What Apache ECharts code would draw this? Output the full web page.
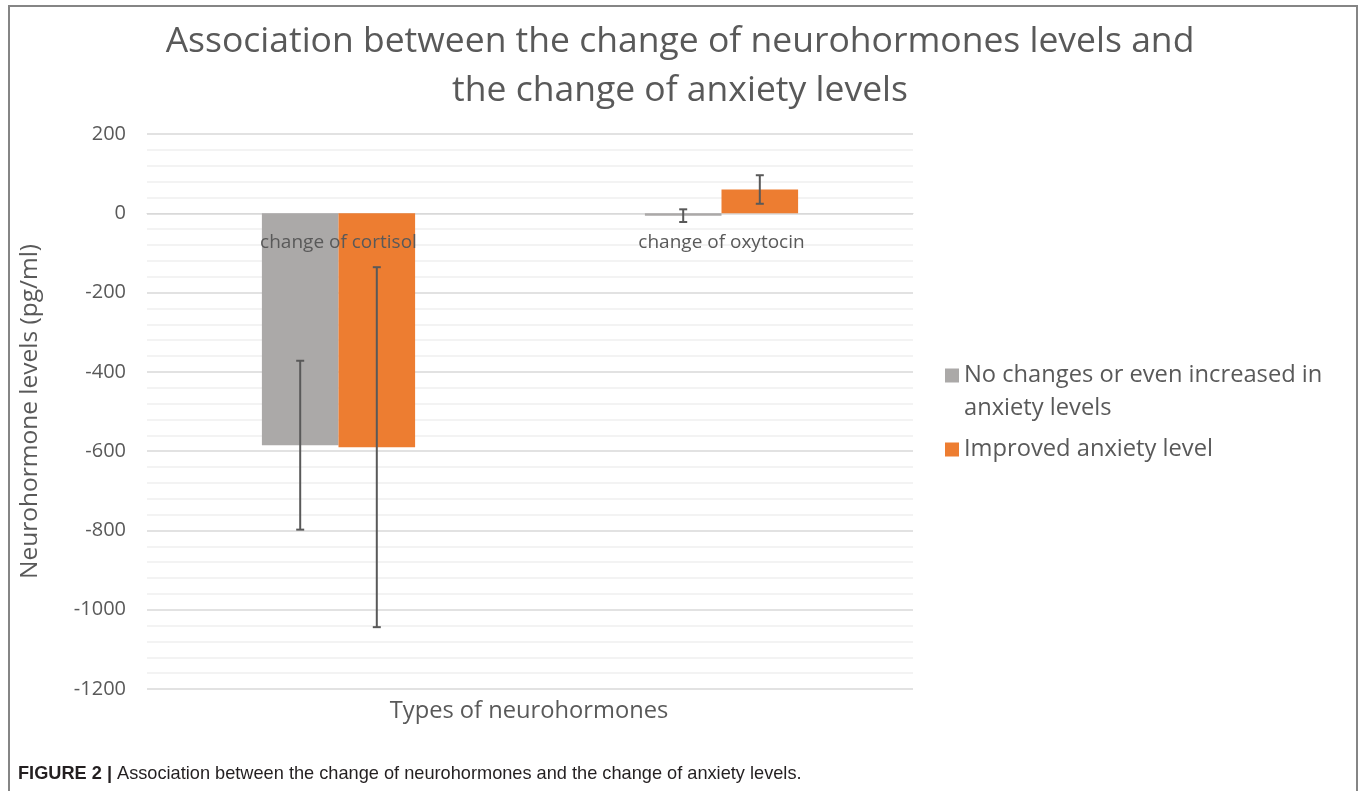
<!DOCTYPE html>
<html>
<head>
<meta charset="utf-8">
<script src="https://cdn.jsdelivr.net/npm/echarts@6/dist/echarts.min.js"></script>
<style>
  html, body { margin: 0; padding: 0; background: #fff; }
  #frame { position: absolute; left: 8px; top: 5px; width: 1346px; height: 800px;
           border: 2px solid #858585; border-bottom: none; }
  #main { position: absolute; left: 0; top: 0; width: 1360px; height: 791px; }
</style>
</head>
<body>
<div id="frame"></div>
<div id="main"></div>
<script>
// categories on the x axis
var categories = ['change of cortisol', 'change of oxytocin'];
// series names
var seriesNames = ['No changes or even increased in anxiety levels', 'Improved anxiety level'];
// mean values (pg/ml)
var noChangeValues = [-585, -6];
var improvedValues = [-590, 60];
// error bar half-widths
var noChangeErr = [213, 16];
var improvedErr = [454, 36];

var textGray = '#595959';
var fontFam = '"Open Sans", sans-serif';

// error bar data: [category index, low, high]
function errData(vals, errs) {
    return vals.map(function (v, i) {
        return [i, v - errs[i], v + errs[i]];
    });
}

// draw one error bar, shifted to the middle of its bar
function errorBar(shift) {
    return function (params, api) {
        var low = api.coord([api.value(0), api.value(1)]);
        var high = api.coord([api.value(0), api.value(2)]);
        var band = api.size([1, 0])[0];
        var x = low[0] + band * 0.1 * shift;
        var cap = 4;
        var st = { stroke: textGray, lineWidth: 2 };
        return {
            type: 'group',
            children: [
                { type: 'line', shape: { x1: x, y1: high[1], x2: x, y2: low[1] }, style: st },
                { type: 'line', shape: { x1: x - cap, y1: high[1], x2: x + cap, y2: high[1] }, style: st },
                { type: 'line', shape: { x1: x - cap, y1: low[1], x2: x + cap, y2: low[1] }, style: st }
            ]
        };
    };
}

// category names sit just under the zero line, like excel does
function catLabel(params, api) {
    var p = api.coord([api.value(0), 0]);
    return {
        type: 'text',
        x: p[0],
        y: p[1] + 29,
        style: {
            text: categories[params.dataIndex],
            align: 'center',
            verticalAlign: 'middle',
            fill: textGray,
            font: '19px "Open Sans", sans-serif'
        }
    };
}

var chart = echarts.init(document.getElementById('main'), null, { renderer: 'canvas' });

var option = {
    animation: false,
    title: [{
        text: 'Association between the change of neurohormones levels and\nthe change of anxiety levels',
        left: 'center',
        top: 12,
        textStyle: { color: textGray, fontFamily: fontFam, fontWeight: 'normal', fontSize: 35.5, lineHeight: 49 }
    }, {
        text: 'Types of neurohormones',
        left: 524,
        textAlign: 'center',
        top: 694,
        textStyle: { color: textGray, fontFamily: fontFam, fontWeight: 'normal', fontSize: 23.7 }
    }, {
        text: '{b|FIGURE 2 |} {n|Association between the change of neurohormones and the change of anxiety levels.}',
        left: 13,
        top: 760,
        textStyle: {
            rich: {
                b: { fontFamily: '"Liberation Sans", Arial, sans-serif', fontWeight: 'bold', fontSize: 18.2, color: '#231f20' },
                n: { fontFamily: '"Liberation Sans", Arial, sans-serif', fontWeight: 'normal', fontSize: 18.2, color: '#231f20' }
            }
        }
    }],
    legend: {
        orient: 'vertical',
        left: 940,
        top: 321,
        icon: 'rect',
        itemWidth: 14,
        itemHeight: 14,
        itemGap: 8,
        data: seriesNames,
        // wrap the long name; empty first line keeps the square beside the first text line
        formatter: function (name) {
            if (name === seriesNames[0]) {
                return '\n' + name.replace(' anxiety levels', '\nanxiety levels');
            }
            return name;
        },
        textStyle: {
            color: textGray, fontFamily: fontFam, fontSize: 23.7, lineHeight: 33
        }
    },
    grid: { left: 147, right: 447, top: 134, bottom: 102 },
    xAxis: {
        type: 'category',
        data: categories,
        axisLine: { onZero: true, lineStyle: { color: '#d9d9d9', width: 1 } },
        axisTick: { show: false },
        axisLabel: { show: false },
        splitLine: { show: false }
    },
    yAxis: {
        type: 'value',
        min: -1200,
        max: 200,
        interval: 200,
        name: 'Neurohormone levels (pg/ml)',
        nameLocation: 'middle',
        nameGap: 104,
        nameTextStyle: { color: textGray, fontFamily: fontFam, fontSize: 24.5 },
        axisLine: { show: false },
        axisTick: { show: false },
        axisLabel: {
            color: textGray, fontFamily: fontFam, fontSize: 20, margin: 21,
            formatter: function (v) { return String(v); }
        },
        splitLine: { lineStyle: { color: '#d9d9d9', width: 1.5 } },
        minorTick: { show: false, splitNumber: 5 },
        minorSplitLine: { show: true, lineStyle: { color: '#f0f0f0', width: 1.5 } }
    },
    series: [{
        name: seriesNames[0],
        type: 'bar',
        data: noChangeValues,
        barWidth: '20%',
        barGap: '0%',
        itemStyle: { color: '#aba9a8' }
    }, {
        name: seriesNames[1],
        type: 'bar',
        data: improvedValues,
        barWidth: '20%',
        barGap: '0%',
        itemStyle: { color: '#ed7d31' }
    }, {
        type: 'custom',
        renderItem: errorBar(-1),
        data: errData(noChangeValues, noChangeErr),
        encode: { x: 0, y: [1, 2] },
        z: 10
    }, {
        type: 'custom',
        renderItem: errorBar(1),
        data: errData(improvedValues, improvedErr),
        encode: { x: 0, y: [1, 2] },
        z: 10
    }, {
        type: 'custom',
        renderItem: catLabel,
        data: categories.map(function (c, i) { return [i, 0]; }),
        encode: { x: 0, y: 1 },
        silent: true,
        z: 20
    }]
};
chart.setOption(option);
</script>
</body>
</html>
